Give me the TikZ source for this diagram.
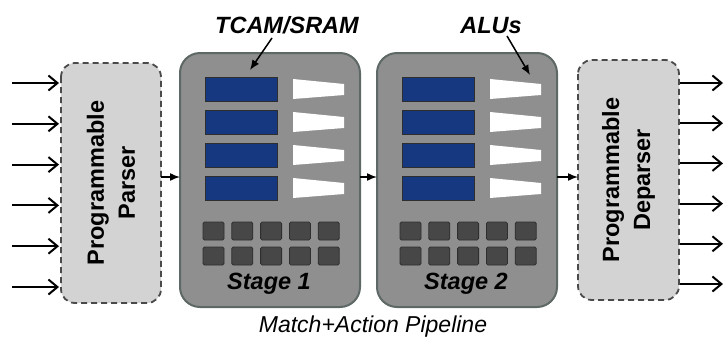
\documentclass[tikz,border=0pt]{standalone}
\usepackage{fontspec}
\setmainfont{Liberation Sans}
\usetikzlibrary{arrows.meta}

\definecolor{boxgray}{HTML}{D3D3D3}
\definecolor{dashgray}{HTML}{4A4A4A}
\definecolor{stagefill}{HTML}{8F8F8F}
\definecolor{stageedge}{HTML}{5E6866}
\definecolor{tcamblue}{HTML}{163880}
\definecolor{cellfill}{HTML}{474747}
\definecolor{celledge}{HTML}{2E2E2E}

\tikzset{
  progbox/.style={draw=dashgray, fill=boxgray, line width=1.8pt,
    dash pattern=on 6pt off 4pt, rounded corners=14pt},
  stagebox/.style={draw=stageedge, fill=stagefill, line width=2pt,
    rounded corners=20pt},
  tcam/.style={draw=celledge, fill=tcamblue, line width=1pt},
  alu/.style={fill=white, draw=none},
  cell/.style={draw=celledge, fill=cellfill, line width=0.8pt, rounded corners=1.5pt},
  portarrow/.style={line width=2pt, -{Straight Barb[length=9pt,width=15pt,line width=2pt]}},
  flowarrow/.style={line width=1.5pt, -{Latex[length=10pt,width=8pt]}},
  bigtext/.style={font=\fontsize{23.5}{31}\selectfont\bfseries},
  labeltext/.style={font=\fontsize{23.5}{26}\selectfont\bfseries\itshape},
}

\begin{document}
\begin{tikzpicture}[x=1pt, y=-1pt]
  \useasboundingbox (0,0) rectangle (724,338);

  % parser and deparser
  \draw[progbox] (61,63) rectangle (161,303);
  \node[bigtext, rotate=90, align=center] (parser) at (111,183) {Programmable\\Parser};
  \coordinate (parserE) at (161,177);

  \draw[progbox] (578,60) rectangle (679,300);
  \node[bigtext, rotate=90, align=center] (deparser) at (628.5,180) {Programmable\\Deparser};
  \coordinate (deparserW) at (578,177);

  % two match+action stages
  \foreach \s/\x/\lab in {1/180/Stage 1, 2/377/Stage 2} {
    \draw[stagebox] (\x,53) rectangle ++(180,254);
    \coordinate (stage\s W) at (\x,177);
    \coordinate (stage\s E) at (\x+180,177);
    \foreach \r in {0,1,2,3} {
      % TCAM/SRAM block
      \draw[tcam] (\x+25,77+33*\r) rectangle ++(72,24);
      % ALU trapezoid
      \fill[alu] (\x+113,79+33*\r) -- (\x+164,84+33*\r) -- (\x+164,95+33*\r) -- (\x+113,99+33*\r) -- cycle;
    }
    \foreach \c in {0,...,4} {
      \draw[cell] (\x+23+28.8*\c,222) rectangle ++(21,18);
      \draw[cell] (\x+23+28.8*\c,247) rectangle ++(21,18);
    }
    \node[labeltext, anchor=base] (st\s) at (\x+89,289) {\lab};
  }

  % packet flow between blocks
  \draw[flowarrow] (parserE) -- (stage1W);
  \draw[flowarrow] (stage1E) -- (stage2W);
  \draw[flowarrow] (stage2E) -- (deparserW);

  % input ports
  \foreach \i in {0,...,5} {
    \coordinate (in\i) at (12,83+40.8*\i);
    \coordinate (pin\i) at (59,83+40.8*\i);
    \draw[portarrow] (in\i) -- (pin\i);
  }
  % output ports
  \foreach \i in {0,...,5} {
    \coordinate (pout\i) at (680,83+40.2*\i);
    \coordinate (out\i) at (723,83+40.2*\i);
    \draw[portarrow] (pout\i) -- (out\i);
  }

  % callouts
  \node[labeltext, anchor=base] (tcamlab) at (287,33) {TCAM/SRAM};
  \coordinate (tcamtip) at (250,70);
  \draw[flowarrow] (272,38) -- (tcamtip);
  \node[labeltext, anchor=base] (alulab) at (491,33) {ALUs};
  \coordinate (alutip) at (530,75);
  \draw[flowarrow] (507,36) -- (alutip);

  \node[font=\fontsize{23}{26}\selectfont\itshape, anchor=base] (pipe) at (373,332) {Match+Action Pipeline};
\end{tikzpicture}
\end{document}
